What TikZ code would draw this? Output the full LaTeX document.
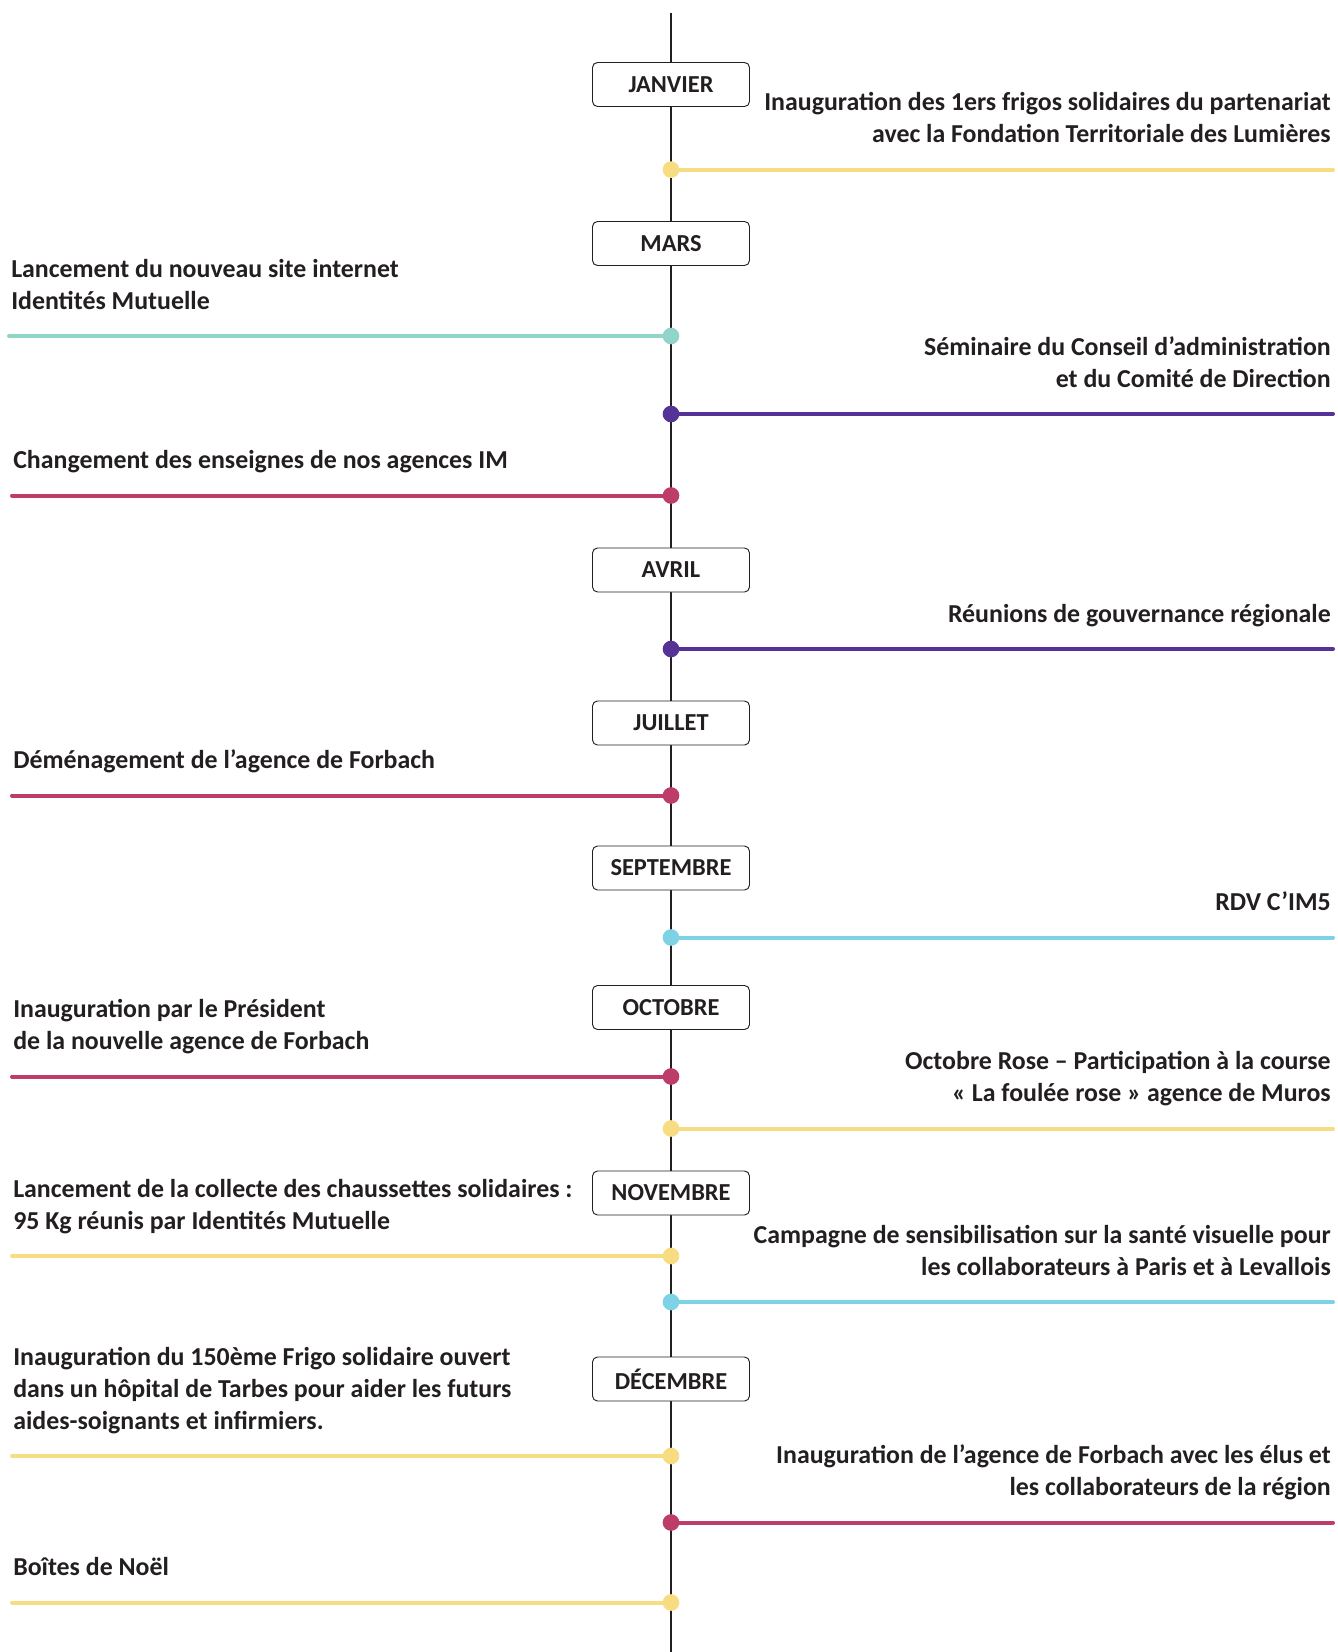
\documentclass[tikz,border=0pt]{standalone}
\usepackage{fontspec}
\setmainfont{Carlito}
\usetikzlibrary{positioning}
\definecolor{evyellow}{RGB}{248,220,130}
\definecolor{evteal}{RGB}{145,212,200}
\definecolor{evpurple}{RGB}{85,50,150}
\definecolor{evpink}{RGB}{190,60,105}
\definecolor{evblue}{RGB}{125,210,230}
\definecolor{inkgray}{RGB}{35,31,32}
\tikzset{
  month/.style = {draw=inkgray, fill=white, line width=0.7pt, rounded corners=3.75pt, minimum width=117.75pt, minimum height=33pt, inner sep=0pt, text=inkgray, font=\fontsize{18.3}{20}\selectfont\bfseries},
  evtext/.style = {inner sep=0pt, text=inkgray, font=\fontsize{19.4}{23.9}\selectfont\bfseries},
  evright/.style = {evtext, anchor=south east, align=right},
  evleft/.style = {evtext, anchor=south west, align=left},
  evdot/.style = {circle, inner sep=0pt, minimum size=12.5pt},
  evline/.style = {line width=3pt, line cap=round},
}

\begin{document}
\begin{tikzpicture}[x=0.75pt, y=-0.75pt]
    \useasboundingbox (0,0) rectangle (1338,1652);
    \coordinate (top) at (671,13);
    \coordinate (bottom) at (671,1652);
    \draw [inkgray, line width=2pt] (top) -- (bottom);

    \node [month] (jan) at (671,84.5) {JANVIER};
    \node [month] (mar) at (671,243.5) {MARS};
    \node [month] (avr) at (671,570) {AVRIL};
    \node [month] (jul) at (671,723) {JUILLET};
    \node [month] (sep) at (671,868) {SEPTEMBRE};
    \node [month] (oct) at (671,1007.5) {OCTOBRE};
    \node [month] (nov) at (671,1193) {NOVEMBRE};
    \node [month] (dec) at (671,1379) {DÉCEMBRE};

    % evenements a droite
    \node [evdot, fill=evyellow] (frigos) at (671,169.6) {};
    \coordinate (frigosend) at (1333,169.6);
    \draw [evline, evyellow] (frigos.center) -- (frigosend);
    \node [evright] (frigostxt) at (1331,152.6) {Inauguration des 1ers frigos solidaires du partenariat\\avec la Fondation Territoriale des Lumières\strut};

    \node [evdot, fill=evpurple] (semin) at (671,414) {};
    \coordinate (seminend) at (1333,414);
    \draw [evline, evpurple] (semin.center) -- (seminend);
    \node [evright] (semintxt) at (1331,397) {Séminaire du Conseil d’administration\\et du Comité de Direction\strut};

    \node [evdot, fill=evpurple] (gouv) at (671,649) {};
    \coordinate (gouvend) at (1333,649);
    \draw [evline, evpurple] (gouv.center) -- (gouvend);
    \node [evright] (gouvtxt) at (1331,632) {Réunions de gouvernance régionale\strut};

    \node [evdot, fill=evblue] (rdv) at (671,937.5) {};
    \coordinate (rdvend) at (1333,937.5);
    \draw [evline, evblue] (rdv.center) -- (rdvend);
    \node [evright] (rdvtxt) at (1331,920.5) {RDV C’IM5\strut};

    \node [evdot, fill=evyellow] (rose) at (671,1128.5) {};
    \coordinate (roseend) at (1333,1128.5);
    \draw [evline, evyellow] (rose.center) -- (roseend);
    \node [evright] (rosetxt) at (1331,1111.5) {Octobre Rose – Participation à la course\\« La foulée rose » agence de Muros\strut};

    \node [evdot, fill=evblue] (visu) at (671,1302) {};
    \coordinate (visuend) at (1333,1302);
    \draw [evline, evblue] (visu.center) -- (visuend);
    \node [evright] (visutxt) at (1331,1285) {Campagne de sensibilisation sur la santé visuelle pour\\les collaborateurs à Paris et à Levallois\strut};

    \node [evdot, fill=evpink] (elus) at (671,1522.5) {};
    \coordinate (elusend) at (1333,1522.5);
    \draw [evline, evpink] (elus.center) -- (elusend);
    \node [evright] (elustxt) at (1331,1505.5) {Inauguration de l’agence de Forbach avec les élus et\\les collaborateurs de la région\strut};

    % evenements a gauche
    \node [evdot, fill=evteal] (site) at (671,336) {};
    \coordinate (siteend) at (9,336);
    \draw [evline, evteal] (site.center) -- (siteend);
    \node [evleft] (sitetxt) at (11,319) {Lancement du nouveau site internet\\Identités Mutuelle\strut};

    \node [evdot, fill=evpink] (enseig) at (671,495.5) {};
    \coordinate (enseigend) at (12,495.5);
    \draw [evline, evpink] (enseig.center) -- (enseigend);
    \node [evleft] (enseigtxt) at (13,478.5) {Changement des enseignes de nos agences IM\strut};

    \node [evdot, fill=evpink] (demen) at (671,795.5) {};
    \coordinate (demenend) at (12,795.5);
    \draw [evline, evpink] (demen.center) -- (demenend);
    \node [evleft] (dementxt) at (13,778.5) {Déménagement de l’agence de Forbach\strut};

    \node [evdot, fill=evpink] (presid) at (671,1076.5) {};
    \coordinate (presidend) at (12,1076.5);
    \draw [evline, evpink] (presid.center) -- (presidend);
    \node [evleft] (presidtxt) at (13,1059.5) {Inauguration par le Président\\de la nouvelle agence de Forbach\strut};

    \node [evdot, fill=evyellow] (chaus) at (671,1256) {};
    \coordinate (chausend) at (12,1256);
    \draw [evline, evyellow] (chaus.center) -- (chausend);
    \node [evleft] (chaustxt) at (13,1239) {Lancement de la collecte des chaussettes solidaires :\\95 Kg réunis par Identités Mutuelle\strut};

    \node [evdot, fill=evyellow] (tarbes) at (671,1456) {};
    \coordinate (tarbesend) at (12,1456);
    \draw [evline, evyellow] (tarbes.center) -- (tarbesend);
    \node [evleft] (tarbestxt) at (13,1439) {Inauguration du 150ème Frigo solidaire ouvert\\dans un hôpital de Tarbes pour aider les futurs\\aides-soignants et infirmiers.\strut};

    \node [evdot, fill=evyellow] (noel) at (671,1602.5) {};
    \coordinate (noelend) at (12,1602.5);
    \draw [evline, evyellow] (noel.center) -- (noelend);
    \node [evleft] (noeltxt) at (13,1585.5) {Boîtes de Noël\strut};
\end{tikzpicture}
\end{document}
